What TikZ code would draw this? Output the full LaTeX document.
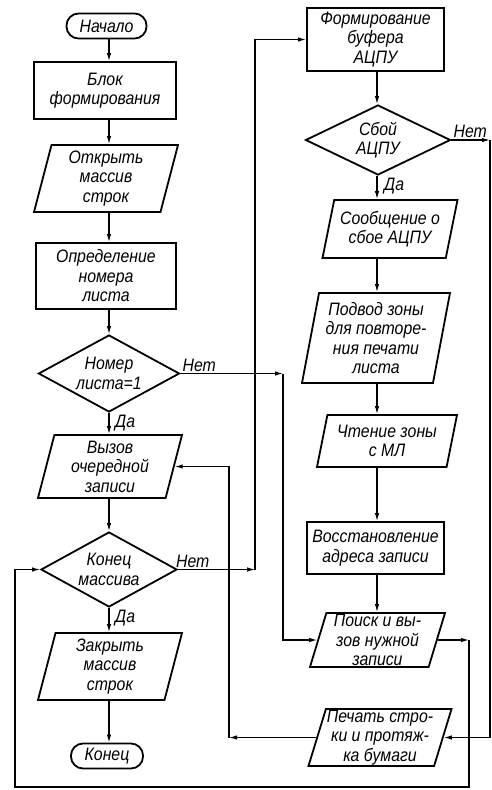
\documentclass[tikz,border=0pt]{standalone}
\usepackage{fontspec}
\setmainfont{Liberation Sans}[FakeStretch=0.88]
\usetikzlibrary{shapes.geometric, arrows.meta}

\begin{document}
\begin{tikzpicture}[x=1pt, y=-1pt,
        txt/.style={font=\itshape\fontsize{18}{19.5}\selectfont, align=center, inner sep=1pt},
        term/.style={txt, draw, line width=1.8pt, rounded corners=12pt, minimum height=25pt},
        proc/.style={txt, draw, line width=1.8pt, rectangle},
        io/.style={txt, draw, line width=1.8pt, trapezium, trapezium left angle=73, trapezium right angle=107, trapezium stretches body},
        cond/.style={txt, draw, line width=1.8pt, diamond, aspect=1.9, inner sep=0pt},
        lbl/.style={txt, inner sep=2pt},
        flow/.style={line width=1.2pt, -{Latex[length=8pt, width=4.5pt]}}]
        \useasboundingbox (0,0) rectangle (492,790);
        % left column
        \node[term, minimum width=80pt] (start) at (106.5,26) {Начало};
        \node[proc, minimum width=142pt, minimum height=57pt] (blk) at (105,90.5) {Блок\\формирования};
        \node[io, minimum width=144pt, minimum height=67pt] (open) at (106,178.5) {Открыть\\массив\\строк};
        \node[proc, minimum width=140pt, minimum height=66pt] (nom) at (106,276) {Определение\\номера\\листа};
        \node[cond, minimum width=141pt, minimum height=77pt] (d1) at (109,373.5) {Номер\\листа=1};
        \node[io, minimum width=144pt, minimum height=63pt] (call) at (110,466.5) {Вызов\\очередной\\записи};
        \node[cond, minimum width=136pt, minimum height=75pt] (d2) at (109,569.5) {Конец\\массива};
        \node[io, minimum width=144pt, minimum height=67pt] (close) at (110,666.5) {Закрыть\\массив\\строк};
        \node[term, minimum width=72pt] (stop) at (107,756) {Конец};
        % right column
        \node[proc, minimum width=137pt, minimum height=63pt] (buf) at (375.5,39.5) {Формирование\\буфера\\АЦПУ};
        \node[cond, minimum width=145pt, minimum height=70pt] (d3) at (378,140) {Сбой\\АЦПУ};
        \node[io, minimum width=135pt, minimum height=58pt] (msg) at (390,229) {Сообщение о\\сбое АЦПУ};
        \node[io, minimum width=148pt, minimum height=90pt, trapezium left angle=77, trapezium right angle=103] (rep) at (376,338) {Подвод зоны\\для повторе-\\ния печати\\листа};
        \node[io, minimum width=140pt, minimum height=52pt] (read) at (387,441) {Чтение зоны\\с МЛ};
        \node[proc, minimum width=137pt, minimum height=52pt] (addr) at (375.5,548) {Восстановление\\адреса записи};
        \node[io, minimum width=135pt, minimum height=54pt] (find) at (377.5,640) {Поиск и вы-\\зов нужной\\записи};
        \node[io, minimum width=134pt, minimum height=55pt] (print) at (380,737.5) {Печать стро-\\ки и протяж-\\ка бумаги};
        % branch labels
        \node[lbl, anchor=south west] (no1) at (d1.east) {Нет};
        \node[lbl, anchor=north west, xshift=4pt] (yes1) at (d1.south) {Да};
        \node[lbl, anchor=south west, xshift=-4pt] (no2) at (d2.east) {Нет};
        \node[lbl, anchor=north west, xshift=4pt] (yes2) at (d2.south) {Да};
        \node[lbl, anchor=south west] (no3) at (d3.east) {Нет};
        \node[lbl, anchor=north west, xshift=4pt] (yes3) at (d3.south) {Да};
        % columns of the connectors
        \coordinate (xl) at (109,0);
        \coordinate (xr) at (377,0);
        \coordinate (xa) at (283,0);
        \coordinate (xb) at (255,0);
        \coordinate (xc) at (229,0);
        \coordinate (xd) at (490,0);
        \coordinate (xe) at (469,0);
        \coordinate (xf) at (15,0);
        \coordinate (yb) at (0,787);
        \draw[flow] (start.south -| xl) -- (blk.north -| xl);
        \draw[flow] (blk.south -| xl) -- (open.north -| xl);
        \draw[flow] (open.south -| xl) -- (nom.north -| xl);
        \draw[flow] (nom.south -| xl) -- (d1.north);
        \draw[flow] (d1.south) -- (call.north -| xl);
        \draw[flow] (call.south -| xl) -- (d2.north);
        \draw[flow] (d2.south) -- (close.north -| xl);
        \draw[flow] (close.south -| xl) -- (stop.north -| xl);
        \draw[flow] (buf.south -| xr) -- (d3.north -| xr);
        \draw[flow] (d3.south -| xr) -- (msg.north -| xr);
        \draw[flow] (msg.south -| xr) -- (rep.north -| xr);
        \draw[flow] (rep.south -| xr) -- (read.north -| xr);
        \draw[flow] (read.south -| xr) -- (addr.north -| xr);
        \draw[flow] (addr.south -| xr) -- (find.north -| xr);
        % loops
        \draw[flow] (d1.east) -- (d1.east -| xa);
        \draw[flow] (d1.east -| xa) |- (find.west);
        \draw[flow] (d2.east) -- (d2.east -| xb);
        \draw[flow] (d2.east -| xb) |- (buf.west);
        \draw[flow] (d3.east) -- (d3.east -| xd);
        \draw[flow] (d3.east -| xd) |- (print.east);
        \draw[flow] (print.west) -- (print.west -| xc);
        \draw[flow] (print.west -| xc) |- (call.east);
        \draw[flow] (find.east) -- (find.east -| xe);
        \draw[flow] (find.east -| xe) |- (yb -| xf) |- (d2.west);
    \end{tikzpicture}
\end{document}
